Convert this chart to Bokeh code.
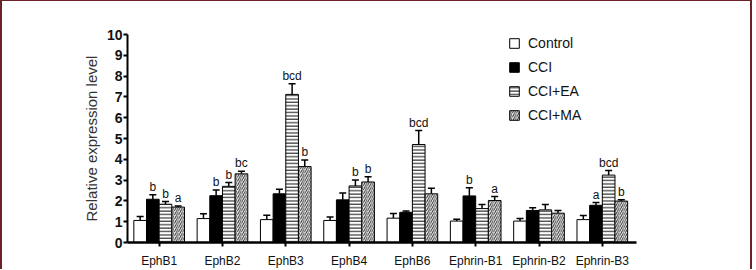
from bokeh.plotting import figure
from bokeh.models import (ColumnDataSource, Whisker, TeeHead, Legend, LegendItem,
                          FixedTicker, Range1d)
from bokeh.core.properties import value
from bokeh.embed import file_html
from bokeh.resources import INLINE

categories = ["EphB1", "EphB2", "EphB3", "EphB4", "EphB6", "Ephrin-B1", "Ephrin-B2", "Ephrin-B3"]
series_names = ["Control", "CCI", "CCI+EA", "CCI+MA"]

control = [1.06, 1.15, 1.10, 1.06, 1.17, 1.03, 1.03, 1.10]
control_err = [1.25, 1.38, 1.31, 1.23, 1.40, 1.12, 1.15, 1.30]
cci = [2.08, 2.25, 2.34, 2.05, 1.45, 2.24, 1.54, 1.79]
cci_err = [2.30, 2.53, 2.56, 2.38, 1.51, 2.63, 1.67, 1.92]
ea = [1.84, 2.70, 7.12, 2.72, 4.71, 1.63, 1.57, 3.24]
ea_err = [1.97, 2.88, 7.63, 3.01, 5.38, 1.83, 1.83, 3.46]
ma = [1.70, 3.30, 3.65, 2.91, 2.34, 2.02, 1.41, 1.99]
ma_err = [1.76, 3.43, 3.97, 3.16, 2.61, 2.21, 1.54, 2.05]

control_sig = ["", "", "", "", "", "", "", ""]
cci_sig = ["b", "b", "", "", "", "b", "", "a"]
ea_sig = ["b", "b", "bcd", "b", "bcd", "", "", "bcd"]
ma_sig = ["a", "bc", "b", "b", "", "a", "", "b"]

yticks = [0, 1, 2, 3, 4, 5, 6, 7, 8, 9, 10]

FONT = "Liberation Sans"

p = figure(width=752, height=269, output_backend="svg", toolbar_location=None,
           x_range=Range1d(0, 8.04), y_range=Range1d(0, 10),
           min_border_left=125, min_border_right=118, min_border_top=33,
           min_border_bottom=28)
p.styles = {"border-top": "1px solid #6b2226", "border-left": "2px solid #6b2226",
            "border-right": "2px solid #6b2226"}
p.outline_line_color = None
p.xgrid.visible = False
p.ygrid.visible = False
p.background_fill_color = "white"
p.border_fill_color = "white"

offsets = [-0.3, -0.1, 0.1, 0.3]
vals = [control, cci, ea, ma]
errs = [control_err, cci_err, ea_err, ma_err]
sigs = [control_sig, cci_sig, ea_sig, ma_sig]
styles = [
    dict(fill_color="white"),
    dict(fill_color="black"),
    dict(fill_color="white", hatch_pattern="horizontal_line", hatch_scale=3.4,
         hatch_weight=1.1, hatch_color="#222222"),
    dict(fill_color="white", hatch_pattern="right_diagonal_line", hatch_scale=4.2,
         hatch_weight=1.0, hatch_color="#333333"),
]

items = []
for k in range(4):
    xs = [i + 0.5 + offsets[k] for i in range(len(categories))]
    src = ColumnDataSource(dict(x=xs, top=vals[k], err=errs[k], sig=sigs[k]))
    r = p.vbar(x="x", top="top", width=0.2, bottom=0, source=src,
               line_color="black", line_width=1, **styles[k])
    w = Whisker(source=src, base="x", upper="err", lower="top", dimension="height",
                line_color="black", line_width=1.5,
                upper_head=TeeHead(size=7, line_width=1.5, line_color="black"),
                lower_head=None)
    p.add_layout(w)
    p.text(x="x", y="err", text="sig", source=src, text_align="center",
           text_baseline="bottom", y_offset=-1, text_font=value(FONT),
           text_font_size="12px", text_color="#111111")
    items.append(LegendItem(label=series_names[k], renderers=[r]))

legend = Legend(items=items, location=(381, 117), padding=0, margin=0,
                border_line_color=None, background_fill_alpha=0,
                glyph_width=12, glyph_height=12, label_height=20, spacing=4,
                label_standoff=8, label_text_font=FONT, label_text_font_size="14px",
                label_text_color="#111111")
p.add_layout(legend)

# axes
p.xaxis.ticker = FixedTicker(ticks=[i + 0.5 for i in range(len(categories))])
p.xaxis.major_label_overrides = {i + 0.5: c for i, c in enumerate(categories)}
p.xaxis.major_label_text_font = FONT
p.xaxis.major_label_text_font_size = "12px"
p.xaxis.major_label_text_color = "#111111"
p.xaxis.major_label_standoff = 7
p.xaxis.axis_line_width = 2.5
p.xaxis.major_tick_line_width = 2
p.xaxis.major_tick_out = 4
p.xaxis.major_tick_in = 0
p.xaxis.minor_tick_line_color = None

p.yaxis.ticker = FixedTicker(ticks=yticks)
p.yaxis.major_label_text_font = FONT
p.yaxis.major_label_text_font_style = "bold"
p.yaxis.major_label_text_font_size = "14px"
p.yaxis.major_label_text_color = "#111111"
p.yaxis.major_label_standoff = 1
p.yaxis.axis_line_width = 2
p.yaxis.major_tick_line_width = 2
p.yaxis.major_tick_out = 4
p.yaxis.major_tick_in = 0
p.yaxis.minor_tick_line_color = None
p.yaxis.axis_label = "Relative expression level"
p.yaxis.axis_label_text_font = FONT
p.yaxis.axis_label_text_font_style = "normal"
p.yaxis.axis_label_text_font_size = "15px"
p.yaxis.axis_label_text_color = "#333333"
p.yaxis.axis_label_standoff = 4

open("out.html", "w").write(file_html(p, INLINE))
